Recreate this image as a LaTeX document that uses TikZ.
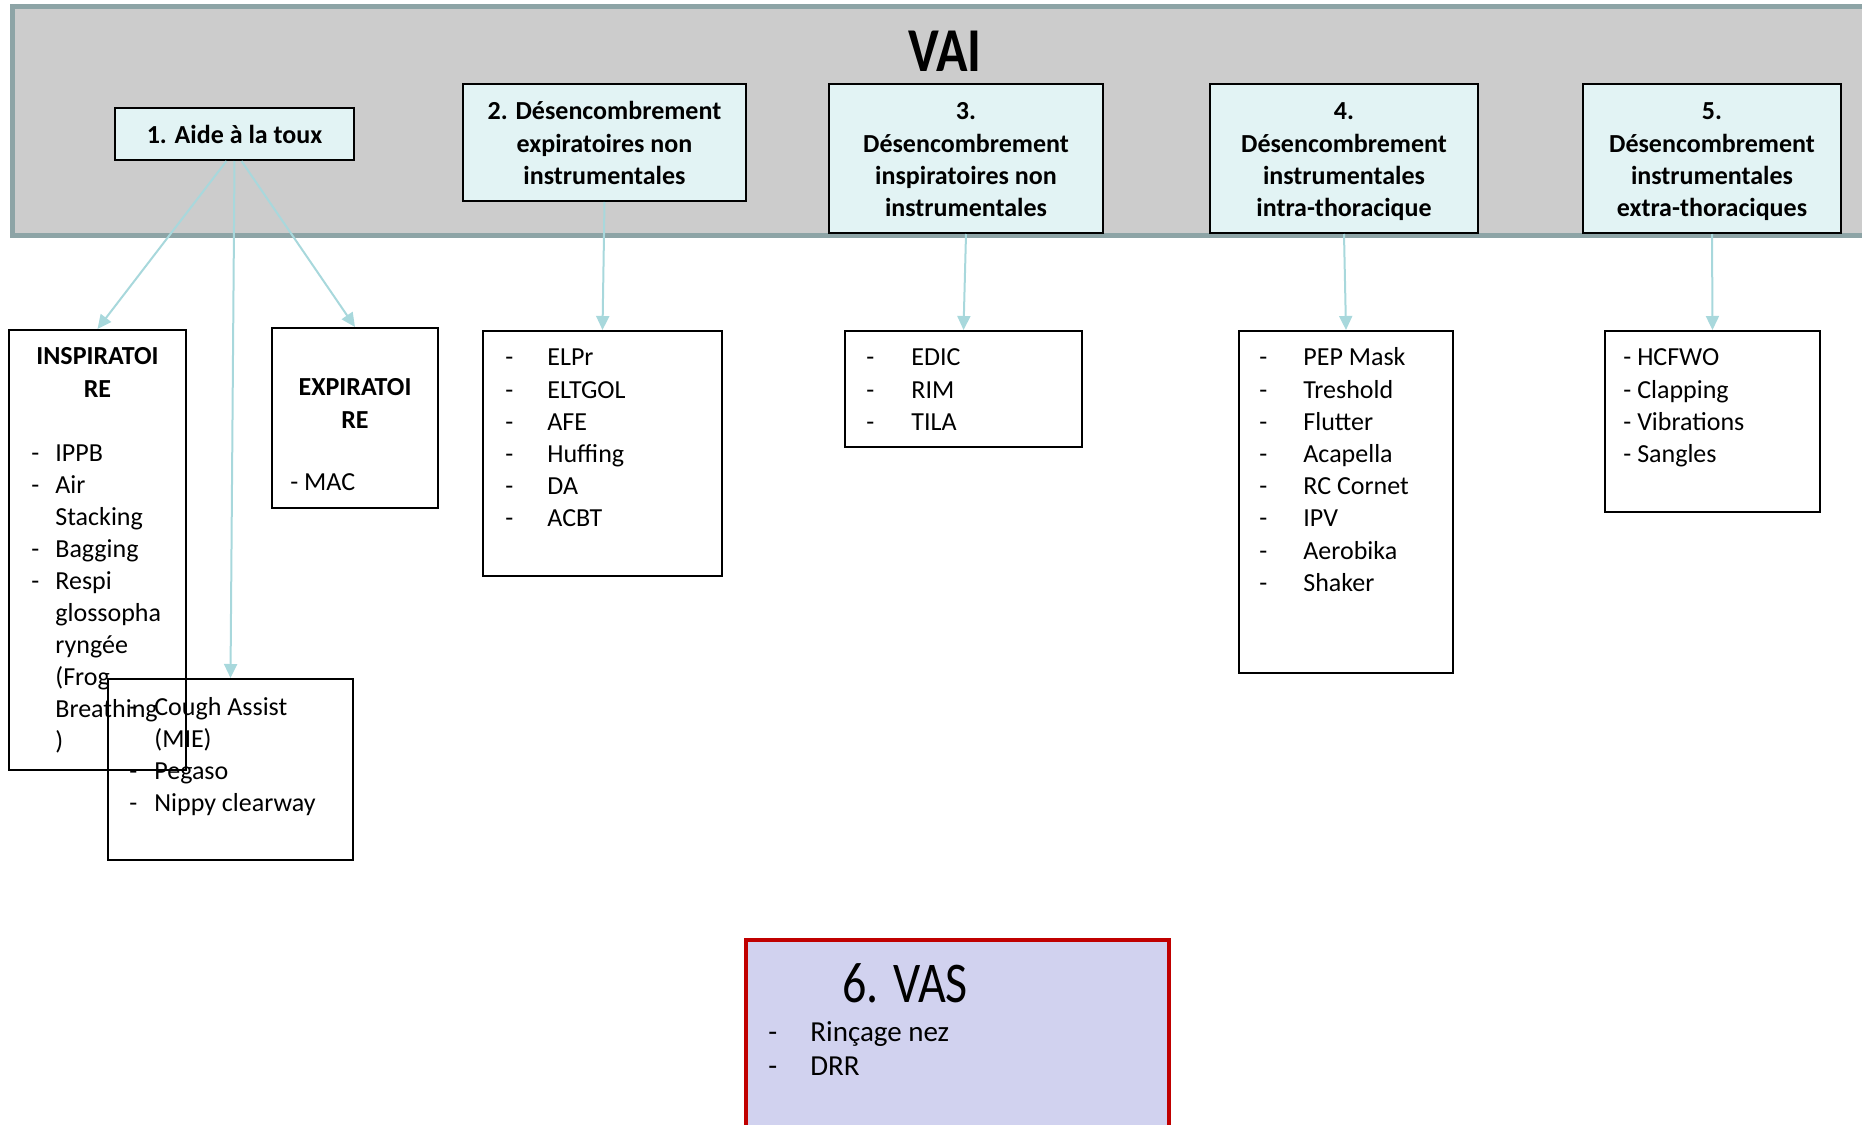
\documentclass[tikz,border=0pt]{standalone}
\usepackage{fontspec}
\setmainfont{Carlito}
\usetikzlibrary{arrows.meta,fit,calc}
\definecolor{bandfill}{HTML}{CCCCCC}
\definecolor{bandedge}{HTML}{8DA4A6}
\definecolor{hfill}{HTML}{E2F3F4}
\definecolor{arrowc}{HTML}{A8D8DC}
\definecolor{vasfill}{HTML}{D1D2EF}
\definecolor{vasedge}{HTML}{C00000}
\tikzset{
  hbox/.style={draw=black, line width=1pt, fill=hfill, inner sep=0pt},
  lbox/.style={draw=black, line width=1pt, inner sep=0pt},
  htext/.style={font=\fontsize{13}{16.1}\selectfont\bfseries, align=center, anchor=north, inner sep=0pt},
  ltext/.style={font=\fontsize{13}{16.1}\selectfont, align=left, anchor=north west, inner sep=0pt},
  arr/.style={draw=arrowc, line width=1pt, -{Triangle[length=7pt,width=6.5pt]}},
}
\newcommand{\dd}[1]{\makebox[#1][l]{-}}
\newcommand{\ee}[1]{\makebox[#1][l]{}}
\begin{document}
\begin{tikzpicture}[x=0.5pt,y=-0.5pt]
\useasboundingbox (0,0) rectangle (1862,1124);
\clip (0,0) rectangle (1862,1124);
% band
\node[fit={(12,6) (1885,235)}, draw=bandedge, line width=2.5pt, fill=bandfill, inner sep=0pt] (band) {};
\node[font=\fontsize{26}{30}\selectfont\bfseries, inner sep=0pt] (vai) at (945,51) {\scalebox{1}[1.2]{VAI}};
% header boxes
\node[hbox, fit={(115,108) (354,160)}] (h1) {};
\node[hbox, fit={(463,84) (746,201)}] (h2) {};
\node[hbox, fit={(829,84) (1103,233)}] (h3) {};
\node[hbox, fit={(1210,84) (1478,233)}] (h4) {};
\node[hbox, fit={(1583,84) (1841,233)}] (h5) {};
\node[htext] (t1) at (234.5,121) {\strut 1. Aide à la toux};
\node[htext] (t2) at (604.5,97) {\strut 2. Désencombrement\\expiratoires non\\instrumentales};
\node[htext] (t3) at (966,97) {\strut 3.\\Désencombrement\\inspiratoires non\\instrumentales};
\node[htext] (t4) at (1344,97) {\strut 4.\\Désencombrement\\instrumentales\\intra-thoracique};
\node[htext] (t5) at (1712,97) {\strut 5.\\Désencombrement\\instrumentales\\extra-thoraciques};
% lower boxes
\node[lbox, fit={(9,330) (186,770)}] (insp) {};
\node[lbox, fit={(272,328) (438,508)}] (exp) {};
\node[lbox, fit={(108,679) (353,860)}] (cough) {};
\node[lbox, fit={(483,331) (722,576)}] (elpr) {};
\node[lbox, fit={(845,331) (1082,447)}] (edic) {};
\node[lbox, fit={(1239,331) (1453,673)}] (pep) {};
\node[lbox, fit={(1605,331) (1820,512)}] (hc) {};
% texts
\node[htext] (inspt) at (97.5,342) {\strut INSPIRATOI\\RE};
\node[ltext, font=\fontsize{13}{16}\selectfont] (inspl) at (31,439) {\strut\dd{12pt}IPPB\\\dd{12pt}Air\\\ee{12pt}Stacking\\\dd{12pt}Bagging\\\dd{12pt}Respi\\\ee{12pt}glossopha\\\ee{12pt}ryngée\\\ee{12pt}(Frog\\\ee{12pt}Breathing\\\ee{12pt})};
\node[htext] (expt) at (355,373) {\strut EXPIRATOI\\RE};
\node[ltext] (expl) at (290,468) {\strut - MAC};
\node[ltext, font=\fontsize{13}{16}\selectfont] (coughl) at (129,693) {\strut\dd{12.5pt}Cough Assist\\\ee{12.5pt}(MIE)\\\dd{12.5pt}Pegaso\\\dd{12.5pt}Nippy clearway};
\node[ltext] (elprl) at (505,343) {\strut\dd{21pt}ELPr\\\dd{21pt}ELTGOL\\\dd{21pt}AFE\\\dd{21pt}Huffing\\\dd{21pt}DA\\\dd{21pt}ACBT};
\node[ltext] (edicl) at (866,343) {\strut\dd{22.5pt}EDIC\\\dd{22.5pt}RIM\\\dd{22.5pt}TILA};
\node[ltext] (pepl) at (1259,343) {\strut\dd{22pt}PEP Mask\\\dd{22pt}Treshold\\\dd{22pt}Flutter\\\dd{22pt}Acapella\\\dd{22pt}RC Cornet\\\dd{22pt}IPV\\\dd{22pt}Aerobika\\\dd{22pt}Shaker};
\node[ltext] (hcl) at (1623,343) {\strut - HCFWO\\- Clapping\\- Vibrations\\- Sangles};
% VAS
\node[fit={(746,940) (1169,1150)}, draw=vasedge, line width=2pt, fill=vasfill, inner sep=0pt] (vas) {};
\node[font=\fontsize{24}{28}\selectfont, inner sep=0pt] (vast) at (905,983) {\scalebox{1}[1.2]{6. VAS}};
\node[ltext, font=\fontsize{14.5}{17}\selectfont] (vasl) at (768,1017) {\strut\dd{21pt}Rinçage nez\\\dd{21pt}DRR};
% arrows
\draw[arr] ($(h1.south)+(-8,0)$) -- (insp.north);
\draw[arr] (h1.south) -- (cough.north);
\draw[arr] ($(h1.south)+(7,0)$) -- (exp.north);
\draw[arr] (h2.south) -- (elpr.north);
\draw[arr] (h3.south) -- (edic.north);
\draw[arr] (h4.south) -- (pep.north);
\draw[arr] (h5.south) -- (hc.north);
\end{tikzpicture}
\end{document}
